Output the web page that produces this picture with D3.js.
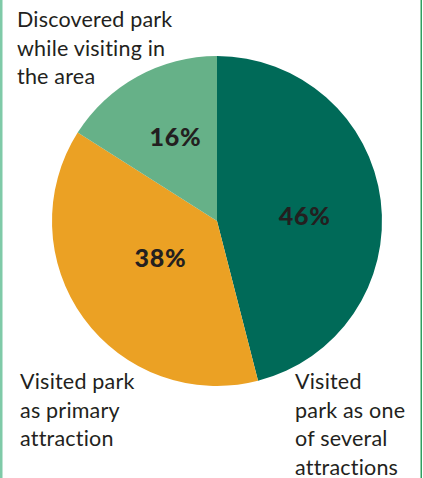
<!DOCTYPE html>
<html>
<head>
<meta charset="utf-8">
<script src="https://cdn.jsdelivr.net/npm/d3@7/dist/d3.min.js"></script>
<style>
  html, body { margin: 0; padding: 0; background: #fff; }
  svg { display: block; }
  text { font-variant-ligatures: none; }
</style>
</head>
<body>
<svg id="chart" width="423" height="478"></svg>
<script>
// Why visitors came to the park (share of respondents)
const categories = [
  "Visited park as one of several attractions",
  "Visited park as primary attraction",
  "Discovered park while visiting in the area"
];
const shares = [46, 38, 16];
const valueLabels = ["46%", "38%", "16%"];
const sliceColors = ["#006a58", "#eba124", "#66b188"];

// Category captions, broken into lines as typeset around the pie
const captionLines = [
  ["Visited", "park as one", "of several", "attractions"],
  ["Visited park", "as primary", "attraction"],
  ["Discovered park", "while visiting in", "the area"]
];

const W = 423, H = 478;
const cx = 217, cy = 221, R = 165;
const textColor = "#231f20";
const font = "Lato, 'Open Sans', sans-serif";

const svg = d3.select("#chart");

// Frame rules at left and right edges
svg.append("rect").attr("x", 0).attr("y", 0).attr("width", 2.5).attr("height", H).attr("fill", "#7fcaa8");
svg.append("rect").attr("x", 420.5).attr("y", 0).attr("width", 1.5).attr("height", H).attr("fill", "#2f9f5f");

const pie = d3.pie().sort(null).value(d => d);
const arcs = pie(shares);
const arc = d3.arc().innerRadius(0).outerRadius(R);

const g = svg.append("g").attr("transform", `translate(${cx},${cy})`);

g.selectAll("path.slice")
  .data(arcs)
  .join("path")
  .attr("class", "slice")
  .attr("d", arc)
  .attr("fill", (d, i) => sliceColors[i]);

// Percentage labels placed along each slice's mid-angle
const labelRadius = [88, 67, 95];
const labelAngleShift = [0.06, 0.06, 0.05];
g.selectAll("text.pct")
  .data(arcs)
  .join("text")
  .attr("class", "pct")
  .each(function (d, i) {
    const a = (d.startAngle + d.endAngle) / 2 + labelAngleShift[i];
    const r = labelRadius[i];
    d3.select(this)
      .attr("x", Math.sin(a) * r)
      .attr("y", -Math.cos(a) * r);
  })
  .attr("text-anchor", "middle")
  .attr("dominant-baseline", "central")
  .attr("font-family", font)
  .attr("font-weight", 900)
  .attr("font-size", 25)
  .attr("letter-spacing", 0.8)
  .attr("fill", textColor)
  .text((d, i) => valueLabels[i]);

// Category captions
const captionPos = [
  { x: 295, y: 389 },
  { x: 20, y: 389 },
  { x: 17, y: 27 }
];
const lineStep = 28.5;

captionLines.forEach((lines, i) => {
  const t = svg.append("text")
    .attr("font-family", font)
    .attr("font-size", 21.5)
    .attr("letter-spacing", 0.2)
    .attr("fill", textColor)
    .attr("aria-label", categories[i]);
  lines.forEach((ln, j) => {
    t.append("tspan")
      .attr("x", captionPos[i].x)
      .attr("y", captionPos[i].y + j * lineStep)
      .text(ln);
  });
});
</script>
</body>
</html>
